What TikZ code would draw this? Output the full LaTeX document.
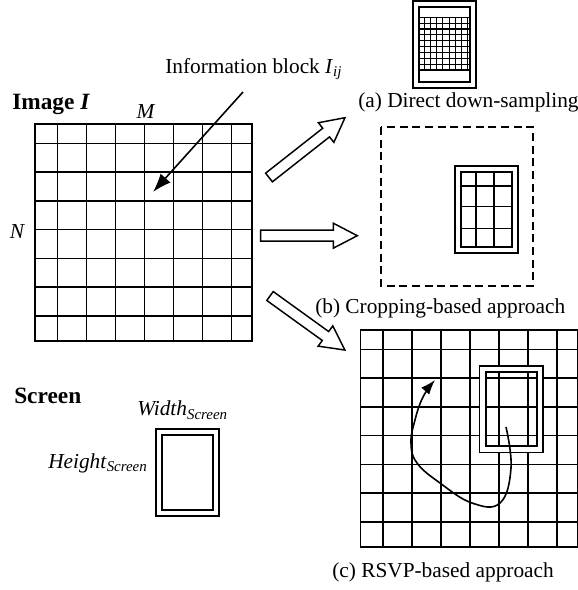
\documentclass[tikz,border=0pt]{standalone}
\usepackage{fontspec}
\setmainfont{Liberation Serif}
\usetikzlibrary{arrows.meta}

\begin{document}
\begin{tikzpicture}[x=0.75pt,y=-0.75pt]
		% Define the styles
		\tikzstyle{every node}=[inner sep=0pt, font=\fontsize{16}{19}\selectfont]
		\tikzstyle{title}=[font=\fontsize{17.5}{20}\selectfont\bfseries]
		\tikzstyle{gridline}=[line width=1.1pt]
		\tikzstyle{thingrid}=[line width=0.8pt]
		\tikzstyle{screen}=[draw, double, line width=1.4pt, double distance=3.2pt,
		minimum width=42.9pt, minimum height=60.4pt]
		\tikzstyle{cropbox}=[line width=1.1pt, dash pattern=on 6pt off 3.5pt]
		\tikzstyle{bigarrow}=[line width=1.1pt, line join=miter]
		\tikzstyle{pointer}=[line width=1.2pt, -{Latex[length=14pt,width=10pt]}]
		\useasboundingbox (0,0) rectangle (578,590);
		
		% Draw the image grids (image I and the RSVP view)
		\foreach \ox/\oy in {0/0, 325.5/206} {
			\draw[gridline] ({35+\ox},{124+\oy}) rectangle ({252+\ox},{341+\oy});
			\foreach \i in {0,...,6} {
				\draw[gridline] ({57.3+29.07*\i+\ox},{124+\oy}) -- ({57.3+29.07*\i+\ox},{341+\oy});
				\draw[gridline] ({35+\ox},{143.3+28.78*\i+\oy}) -- ({252+\ox},{143.3+28.78*\i+\oy});
			}
		}
		
		% Draw the small grids inside the screens
		\foreach \i in {0,...,9} \draw[thingrid] (419.9,{17.3+5.86*\i}) -- (469.1,{17.3+5.86*\i});
		\foreach \i in {0,...,7} \draw[thingrid] ({424.3+6.2*\i},17.3) -- ({424.3+6.2*\i},70);
		\draw[gridline] (419.9,17.3) -- (469.1,17.3); \draw[gridline] (419.9,70) -- (469.1,70);
		\foreach \x in {476,494} \draw[thingrid] (\x,173.3) -- (\x,245.7);
		\foreach \y in {186,206.7,228.3} \draw[thingrid] (461.8,\y) -- (511,\y);
		
		% Screens
		\node[screen] (scr) at (187.4,472.5) {}; \node[screen] (scra) at (444.5,44.5) {};
		\node[screen] (scrb) at (486.4,209.5) {}; \node[screen] (scrc) at (511.2,409.2) {};
		\draw[cropbox] (381,127) rectangle (533,286);
		
		% Labels
		\node[title, anchor=base west] (img) at (12,109.3) {Image \textit{I}};
		\node[anchor=base] (m) at (146,118) {\textit{M}};
		\node[anchor=base] (n) at (17.5,238) {\textit{N}};
		\node[anchor=base west] (info) at (165,73) {Information block \textit{I}\textsubscript{\textit{ij}}};
		\node[anchor=base west] (capa) at (358,107) {(a) Direct down-sampling};
		\node[anchor=base west] (capb) at (315,313) {(b) Cropping-based approach};
		\node[anchor=base west] (capc) at (332,577) {(c) RSVP-based approach};
		\node[title, anchor=base west] (scrtitle) at (14,403) {Screen};
		\node[anchor=base west] (w) at (137,415.7) {\textit{Width}\textsubscript{\textit{Screen}}};
		\node[anchor=base west] (h) at (48,468) {\textit{Height}\textsubscript{\textit{Screen}}};
		
		% Pointer to the information block
		\coordinate (tail) at (243,92); \coordinate (blk) at (153,192);
		\draw[pointer] (tail) -- (blk);
		
		% Hollow arrows towards the three approaches
		\foreach \ax/\ay/\ang/\len in {269/177.5/38.2/96.7, 260.7/235.7/0/96.6, 270/296/-35.8/92.4}
		\draw[bigarrow, shift={(\ax,\ay)}, rotate=\ang] (0,-5.5) -- ({\len-24},-5.5) --
		({\len-24},-12.5) -- (\len,0) -- ({\len-24},12.5) -- ({\len-24},5.5) -- (0,5.5) -- cycle;
		
		% Browsing path of the screen
		\draw[line width=1.2pt, -{Latex[length=11pt,width=8pt]}] plot[smooth, tension=0.7]
		coordinates {(506,427) (511,468) (500,503) (472,503) (440,483) (417,463) (411,443)
		(415,420) (423,397) (435,380)};
\end{tikzpicture}
\end{document}
